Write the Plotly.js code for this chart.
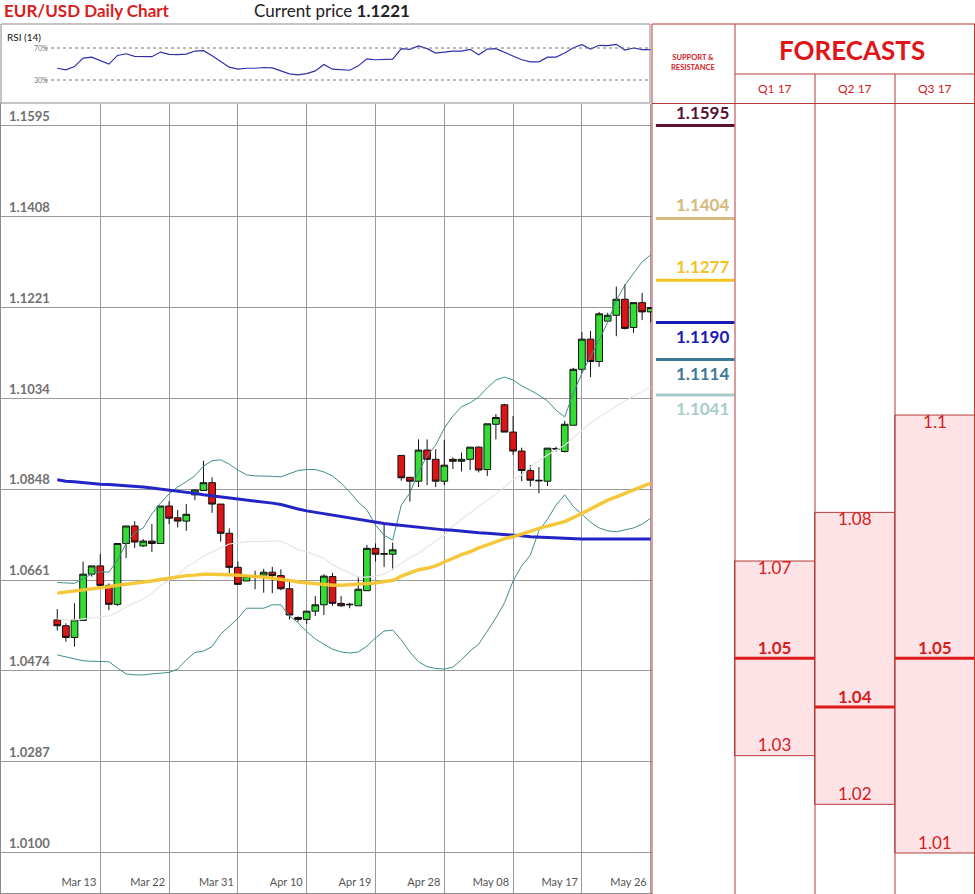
<!DOCTYPE html>
<html><head><meta charset="utf-8">
<script src="https://cdn.plot.ly/plotly-3.0.1.min.js"></script>
<style>html,body{margin:0;padding:0;background:#fff}#chart{width:975px;height:894px}</style>
</head><body><div id="chart"></div>
<script>
// ---------------- DATA ----------------
const openP  = [1.0579,1.0567,1.0543,1.0578,1.0673,1.0690,1.0650,1.0611,1.0736,1.0772,1.0731,1.0741,1.0736,1.0813,1.0789,1.0782,1.0836,1.0845,1.0861,1.0817,1.0757,1.0687,1.0659,1.0669,1.0671,1.0677,1.0670,1.0643,1.0584,1.0580,1.0597,1.0610,1.0668,1.0613,1.0610,1.0608,1.0639,1.0726,1.0714,1.0714,1.0917,1.0872,1.0864,1.0928,1.0909,1.0864,1.0909,1.0905,1.0909,1.0934,1.0888,1.0981,1.1021,1.0965,1.0926,1.0886,1.0866,1.0864,1.0930,1.0925,1.0979,1.1094,1.1156,1.1110,1.1193,1.1205,1.1238,1.1180,1.1231,1.1212];
const highP  = [1.0601,1.0572,1.0613,1.0699,1.0690,1.0714,1.0654,1.0736,1.0772,1.0782,1.0745,1.0776,1.0813,1.0823,1.0805,1.0817,1.0846,1.0906,1.0872,1.0817,1.0767,1.0699,1.0669,1.0680,1.0684,1.0688,1.0683,1.0659,1.0586,1.0597,1.0628,1.0673,1.0676,1.0628,1.0614,1.0668,1.0733,1.0736,1.0778,1.0738,1.0917,1.0872,1.0950,1.0950,1.0930,1.0949,1.0913,1.0923,1.0934,1.0936,1.0982,1.1002,1.1023,1.0998,1.0933,1.0897,1.0893,1.0932,1.0935,1.0988,1.1097,1.1171,1.1173,1.1212,1.1210,1.1264,1.1269,1.1231,1.1251,1.1221];
const lowP   = [1.0557,1.0534,1.0524,1.0578,1.0668,1.0644,1.0599,1.0608,1.0706,1.0727,1.0729,1.0719,1.0736,1.0776,1.0769,1.0762,1.0825,1.0845,1.0799,1.0740,1.0675,1.0652,1.0659,1.0642,1.0635,1.0634,1.0640,1.0580,1.0575,1.0571,1.0587,1.0589,1.0608,1.0606,1.0603,1.0608,1.0639,1.0699,1.0688,1.0682,1.0865,1.0822,1.0852,1.0856,1.0852,1.0856,1.0889,1.0884,1.0887,1.0882,1.0875,1.0950,1.0965,1.0918,1.0864,1.0853,1.0839,1.0854,1.0925,1.0923,1.0979,1.1086,1.1078,1.1099,1.1193,1.1162,1.1176,1.1169,1.1195,1.1191];
const closeP = [1.0567,1.0543,1.0579,1.0673,1.0690,1.0650,1.0611,1.0736,1.0772,1.0739,1.0741,1.0736,1.0813,1.0788,1.0782,1.0796,1.0846,1.0861,1.0817,1.0757,1.0687,1.0652,1.0669,1.0668,1.0677,1.0670,1.0643,1.0589,1.0580,1.0597,1.0610,1.0669,1.0613,1.0608,1.0611,1.0642,1.0726,1.0714,1.0715,1.0723,1.0871,1.0864,1.0928,1.0909,1.0864,1.0897,1.0905,1.0909,1.0934,1.0887,1.0982,1.0995,1.0965,1.0926,1.0886,1.0866,1.0865,1.0932,1.0931,1.0981,1.1094,1.1156,1.1110,1.1208,1.1205,1.1238,1.1178,1.1231,1.1212,1.1221];

const bbUpper = [1.0656,1.0655,1.0654,1.0664,1.0673,1.0678,1.0677,1.0702,1.0736,1.0758,1.0768,1.0797,1.0819,1.0838,1.0852,1.0863,1.0875,1.0895,1.0906,1.0908,1.0899,1.0887,1.0877,1.0875,1.0875,1.0874,1.0873,1.0879,1.0886,1.0888,1.0888,1.0883,1.0875,1.0860,1.0842,1.0821,1.0805,1.0774,1.0753,1.0743,1.0815,1.0840,1.0883,1.0916,1.0938,1.0973,1.0998,1.1017,1.1025,1.1037,1.1056,1.1072,1.1078,1.1072,1.1060,1.1051,1.1041,1.1029,1.1010,1.0996,1.1045,1.1086,1.1119,1.1154,1.1191,1.1236,1.1267,1.1292,1.1315,1.1329];
const bbLower = [1.0507,1.0503,1.0498,1.0495,1.0494,1.0493,1.0493,1.0480,1.0468,1.0466,1.0466,1.0468,1.0470,1.0471,1.0478,1.0497,1.0512,1.0515,1.0524,1.0550,1.0566,1.0582,1.0603,1.0603,1.0603,1.0610,1.0610,1.0587,1.0573,1.0555,1.0540,1.0529,1.0519,1.0513,1.0511,1.0513,1.0525,1.0542,1.0556,1.0558,1.0538,1.0513,1.0493,1.0483,1.0479,1.0478,1.0482,1.0497,1.0515,1.0529,1.0556,1.0583,1.0614,1.0659,1.0690,1.0712,1.0762,1.0786,1.0815,1.0836,1.0812,1.0797,1.0780,1.0768,1.0762,1.0760,1.0764,1.0768,1.0776,1.0788];
const bbMiddle = [1.0581,1.0579,1.0579,1.0581,1.0583,1.0585,1.0587,1.0595,1.0606,1.0614,1.0622,1.0634,1.0649,1.0661,1.0671,1.0688,1.0698,1.0710,1.0719,1.0727,1.0735,1.0737,1.0740,1.0740,1.0741,1.0741,1.0741,1.0733,1.0723,1.0719,1.0712,1.0706,1.0692,1.0684,1.0675,1.0667,1.0667,1.0669,1.0673,1.0684,1.0696,1.0706,1.0716,1.0729,1.0741,1.0753,1.0772,1.0786,1.0799,1.0811,1.0825,1.0838,1.0852,1.0867,1.0877,1.0893,1.0906,1.0918,1.0928,1.0938,1.0953,1.0969,1.0984,1.0996,1.1006,1.1019,1.1029,1.1039,1.1049,1.1058];
const maYellow = [1.0634,1.0636,1.0638,1.0640,1.0642,1.0645,1.0647,1.0650,1.0652,1.0654,1.0656,1.0659,1.0662,1.0665,1.0667,1.0670,1.0671,1.0673,1.0673,1.0673,1.0672,1.0671,1.0669,1.0668,1.0667,1.0665,1.0662,1.0660,1.0657,1.0655,1.0654,1.0652,1.0650,1.0650,1.0651,1.0652,1.0654,1.0655,1.0658,1.0660,1.0669,1.0675,1.0682,1.0685,1.0690,1.0698,1.0706,1.0713,1.0719,1.0727,1.0733,1.0739,1.0746,1.0750,1.0755,1.0761,1.0767,1.0772,1.0777,1.0781,1.0789,1.0798,1.0807,1.0817,1.0825,1.0832,1.0839,1.0846,1.0853,1.0860];
const maBlue = [1.0867,1.0864,1.0863,1.0861,1.0860,1.0858,1.0857,1.0856,1.0855,1.0853,1.0852,1.0850,1.0848,1.0845,1.0843,1.0841,1.0839,1.0836,1.0834,1.0832,1.0830,1.0827,1.0825,1.0823,1.0821,1.0819,1.0816,1.0811,1.0807,1.0803,1.0800,1.0797,1.0794,1.0791,1.0788,1.0785,1.0782,1.0780,1.0777,1.0775,1.0773,1.0771,1.0770,1.0768,1.0766,1.0764,1.0763,1.0761,1.0760,1.0758,1.0757,1.0756,1.0755,1.0754,1.0752,1.0750,1.0749,1.0748,1.0747,1.0746,1.0746,1.0745,1.0745,1.0745,1.0745,1.0745,1.0745,1.0745,1.0745,1.0745];
const rsi = [44.7,42.6,46.8,57.4,58.6,54.4,49.8,60.7,62.8,59.5,59.5,59.1,64.9,62.0,61.6,62.4,66.2,66.6,60.3,53.2,46.0,43.5,44.7,44.7,45.6,45.2,41.8,37.6,36.3,38.0,41.4,49.4,43.5,42.6,42.2,47.7,56.5,55.3,55.3,56.1,69.2,68.3,72.5,69.2,63.7,65.4,66.2,66.2,68.3,61.6,68.7,69.2,64.9,60.3,55.3,52.7,52.7,58.6,58.6,63.7,70.4,74.2,68.7,73.4,72.9,74.6,67.5,70.0,67.9,67.9];
const rsiLevels = [70, 30];
const rsiLevelLabels = ["70%", "30%"];

const xTickIdx  = [5, 13, 21, 29, 37, 45, 53, 61, 69];
const xTickText = ["Mar 13","Mar 22","Mar 31","Apr 10","Apr 19","Apr 28","May 08","May 17","May 26"];
const priceTicks = [1.0100,1.0287,1.0474,1.0661,1.0848,1.1034,1.1221,1.1408,1.1595];

const currentPrice = "1.1221";
const srLevels = [1.1595, 1.1404, 1.1277, 1.1190, 1.1114, 1.1041];
const srColors = ["#5a1232", "#d6b97c", "#f2c31f", "#1a1ab4", "#3b7898", "#a9cbcb"];
const quarters = ["Q1 17", "Q2 17", "Q3 17"];
const fcHigh = [1.07, 1.08, 1.10];
const fcMid  = [1.05, 1.04, 1.05];
const fcLow  = [1.03, 1.02, 1.01];

// ---------------- LAYOUT HELPERS ----------------
const W = 975, H = 894;
const px = x => x / W;
const py = y => 1 - y / H;
const idx = openP.map((_, i) => i);
const xRange = [-6.66, 69.15];
const yRange = [1.00157, 1.16392];
const priceDomX = [0, px(652)];
const priceDomY = [0, py(104)];
const FONT = "Lato, 'Open Sans', sans-serif";
const RED = "#d4201f";
const TBL = "#b73a36";

const traces = [];
traces.push({type:"scatter", mode:"lines", x:idx, y:bbMiddle, xaxis:"x", yaxis:"y",
  line:{color:"#e6e6e6", width:1.2}, hoverinfo:"skip"});
traces.push({type:"candlestick", x:idx, open:openP, high:highP, low:lowP, close:closeP,
  xaxis:"x", yaxis:"y", whiskerwidth:0,
  increasing:{line:{color:"#111", width:1}, fillcolor:"#33dd33"},
  decreasing:{line:{color:"#111", width:1}, fillcolor:"#dd1414"}});
traces.push({type:"scatter", mode:"lines", x:idx, y:bbUpper, xaxis:"x", yaxis:"y",
  line:{color:"#3f8e8e", width:1}, hoverinfo:"skip"});
traces.push({type:"scatter", mode:"lines", x:idx, y:bbLower, xaxis:"x", yaxis:"y",
  line:{color:"#3f8e8e", width:1}, hoverinfo:"skip"});
traces.push({type:"scatter", mode:"lines", x:idx, y:maBlue, xaxis:"x", yaxis:"y",
  line:{color:"#2424c6", width:3}, hoverinfo:"skip"});
traces.push({type:"scatter", mode:"lines", x:idx, y:maYellow, xaxis:"x", yaxis:"y",
  line:{color:"#f4c531", width:3.5}, opacity:0.95, hoverinfo:"skip"});

// RSI
traces.push({type:"scatter", mode:"lines", x:idx, y:rsi, xaxis:"x3", yaxis:"y3",
  line:{color:"#2f2fae", width:1.2}, hoverinfo:"skip"});

// Forecast boxes (x2 / y2)
const colC = quarters.map((_, i) => i + 1.5);
traces.push({type:"bar", x:colC, base:fcLow, y:fcHigh.map((h, i) => h - fcLow[i]),
  width:1, xaxis:"x2", yaxis:"y2",
  marker:{color:"#fde3e5", line:{color:TBL, width:1}}, hoverinfo:"skip"});
const midX = [], midY = [];
quarters.forEach((_, i) => { midX.push(i + 1, i + 2, null); midY.push(fcMid[i], fcMid[i], null); });
traces.push({type:"scatter", mode:"lines", x:midX, y:midY, xaxis:"x2", yaxis:"y2",
  line:{color:"#dc1a1a", width:3}, hoverinfo:"skip"});
traces.push({type:"scatter", mode:"text", x:colC, y:fcHigh, text:fcHigh.map(String),
  textposition:"bottom center", xaxis:"x2", yaxis:"y2",
  textfont:{family:FONT, size:17, color:RED}, hoverinfo:"skip"});
traces.push({type:"scatter", mode:"text", x:colC, y:fcMid, text:fcMid.map(v => "<b>" + v + "</b>"),
  textposition:"top center", xaxis:"x2", yaxis:"y2",
  textfont:{family:FONT, size:17, color:RED}, hoverinfo:"skip"});
traces.push({type:"scatter", mode:"text", x:colC, y:fcLow, text:fcLow.map(String),
  textposition:"top center", xaxis:"x2", yaxis:"y2",
  textfont:{family:FONT, size:17, color:RED}, hoverinfo:"skip"});

// Support / resistance lines
srLevels.forEach((v, i) => {
  traces.push({type:"scatter", mode:"lines", x:[0.02, 1], y:[v, v], xaxis:"x2", yaxis:"y2",
    line:{color:srColors[i], width:3}, hoverinfo:"skip"});
});

// ---------------- SHAPES ----------------
const shapes = [];
const line = (x0, y0, x1, y1, color, width, dash) => shapes.push({type:"line", xref:"paper", yref:"paper",
  x0:px(x0), y0:py(y0), x1:px(x1), y1:py(y1), line:{color, width, dash:dash || "solid"}});
shapes.push({type:"rect", xref:"paper", yref:"paper", x0:px(1), x1:px(650), y0:py(103), y1:py(24),
  line:{color:"#8a8a8a", width:1}});
rsiLevels.forEach(v => shapes.push({type:"line", xref:"paper", yref:"y3", x0:px(45), x1:px(649), y0:v, y1:v,
  line:{color:"#777", width:1, dash:"dot"}}));
line(0.5, 103, 0.5, 894, "#8a8a8a", 1);
line(0, 893.5, 652, 893.5, "#8a8a8a", 1);
line(652, 24, 975, 24, TBL, 1);
line(735, 74, 975, 74, TBL, 1);
line(652, 103.5, 975, 103.5, TBL, 1);
line(652, 24, 652, 894, TBL, 1);
line(735, 24, 735, 894, TBL, 1);
line(815, 74, 815, 894, TBL, 1);
line(895, 74, 895, 894, TBL, 1);
line(974.5, 24, 974.5, 894, TBL, 1);

// ---------------- ANNOTATIONS ----------------
const ann = [];
ann.push({xref:"paper", yref:"paper", x:px(2), y:py(11), xanchor:"left", yanchor:"middle", showarrow:false,
  text:"<b>EUR/USD Daily Chart</b>", font:{family:FONT, size:17, color:"#d91d1d"}});
ann.push({xref:"paper", yref:"paper", x:px(252), y:py(11), xanchor:"left", yanchor:"middle", showarrow:false,
  text:"Current price <b>" + currentPrice + "</b>", font:{family:FONT, size:17, color:"#222"}});
ann.push({xref:"paper", yref:"paper", x:px(5), y:py(37), xanchor:"left", yanchor:"middle", showarrow:false,
  text:"RSI (14)", font:{family:FONT, size:10, color:"#111"}});
rsiLevels.forEach((v, i) => ann.push({xref:"paper", yref:"y3", x:px(50), y:v, xanchor:"right", yanchor:"middle",
  showarrow:false, text:rsiLevelLabels[i], font:{family:FONT, size:7, color:"#777"}}));
ann.push({xref:"paper", yref:"paper", x:px(693.5), y:py(63), xanchor:"center", yanchor:"middle", showarrow:false,
  text:"<b>SUPPORT &amp;<br>RESISTANCE</b>", font:{family:FONT, size:7.5, color:"#d6201f"}});
ann.push({xref:"paper", yref:"paper", x:px(852), y:py(50), xanchor:"center", yanchor:"middle", showarrow:false,
  text:"<b>FORECASTS</b>", font:{family:FONT, size:26, color:"#e0151a"}});
quarters.forEach((q, i) => ann.push({xref:"x2", yref:"paper", x:colC[i], y:py(88.5), xanchor:"center", yanchor:"middle",
  showarrow:false, text:q, font:{family:FONT, size:12, color:"#d02020"}}));
srLevels.forEach((v, i) => ann.push({xref:"x2", yref:"y2", x:1, y:v, xanchor:"right",
  yanchor: i < 3 ? "bottom" : "top", yshift: i < 3 ? 1 : -1, xshift:-3, showarrow:false,
  text:"<b>" + v.toFixed(4) + "</b>", font:{family:FONT, size:17, color:srColors[i]}}));

const layout = {
  width:W, height:H, margin:{l:0, r:0, t:0, b:0}, paper_bgcolor:"#fff", plot_bgcolor:"#fff",
  showlegend:false, dragmode:false, bargap:0, boxgap:0.05, boxgroupgap:0.18,
  xaxis:{domain:priceDomX, range:xRange, anchor:"y", tickvals:xTickIdx, ticktext:xTickText,
    ticklabelposition:"inside left", ticklabelshift:-4, showgrid:true, gridcolor:"#9a9a9a", gridwidth:1, zeroline:false,
    showline:false, ticks:"", tickfont:{family:FONT, size:11, color:"#555"}, rangeslider:{visible:false}, fixedrange:true},
  yaxis:{domain:priceDomY, range:yRange, anchor:"x", tickvals:priceTicks, ticktext:priceTicks.map(v => v.toFixed(4)),
    ticklabelposition:"inside top", ticklabelstandoff:6, showgrid:true, gridcolor:"#9a9a9a", gridwidth:1, zeroline:false,
    showline:false, ticks:"", tickfont:{family:FONT, size:13, color:"#707070", weight:"bold"}, fixedrange:true},
  xaxis2:{domain:[px(652), 1], range:[-0.0285, 4], anchor:"y2", visible:false, fixedrange:true},
  yaxis2:{domain:priceDomY, range:yRange, anchor:"x2", visible:false, fixedrange:true},
  xaxis3:{domain:priceDomX, range:xRange, anchor:"y3", visible:false, fixedrange:true},
  yaxis3:{domain:[py(103), py(24)], range:[1.25, 100], anchor:"x3", visible:false, fixedrange:true},
  shapes, annotations:ann
};
Plotly.newPlot("chart", traces, layout, {displayModeBar:false, staticPlot:true});
</script>
</body></html>
